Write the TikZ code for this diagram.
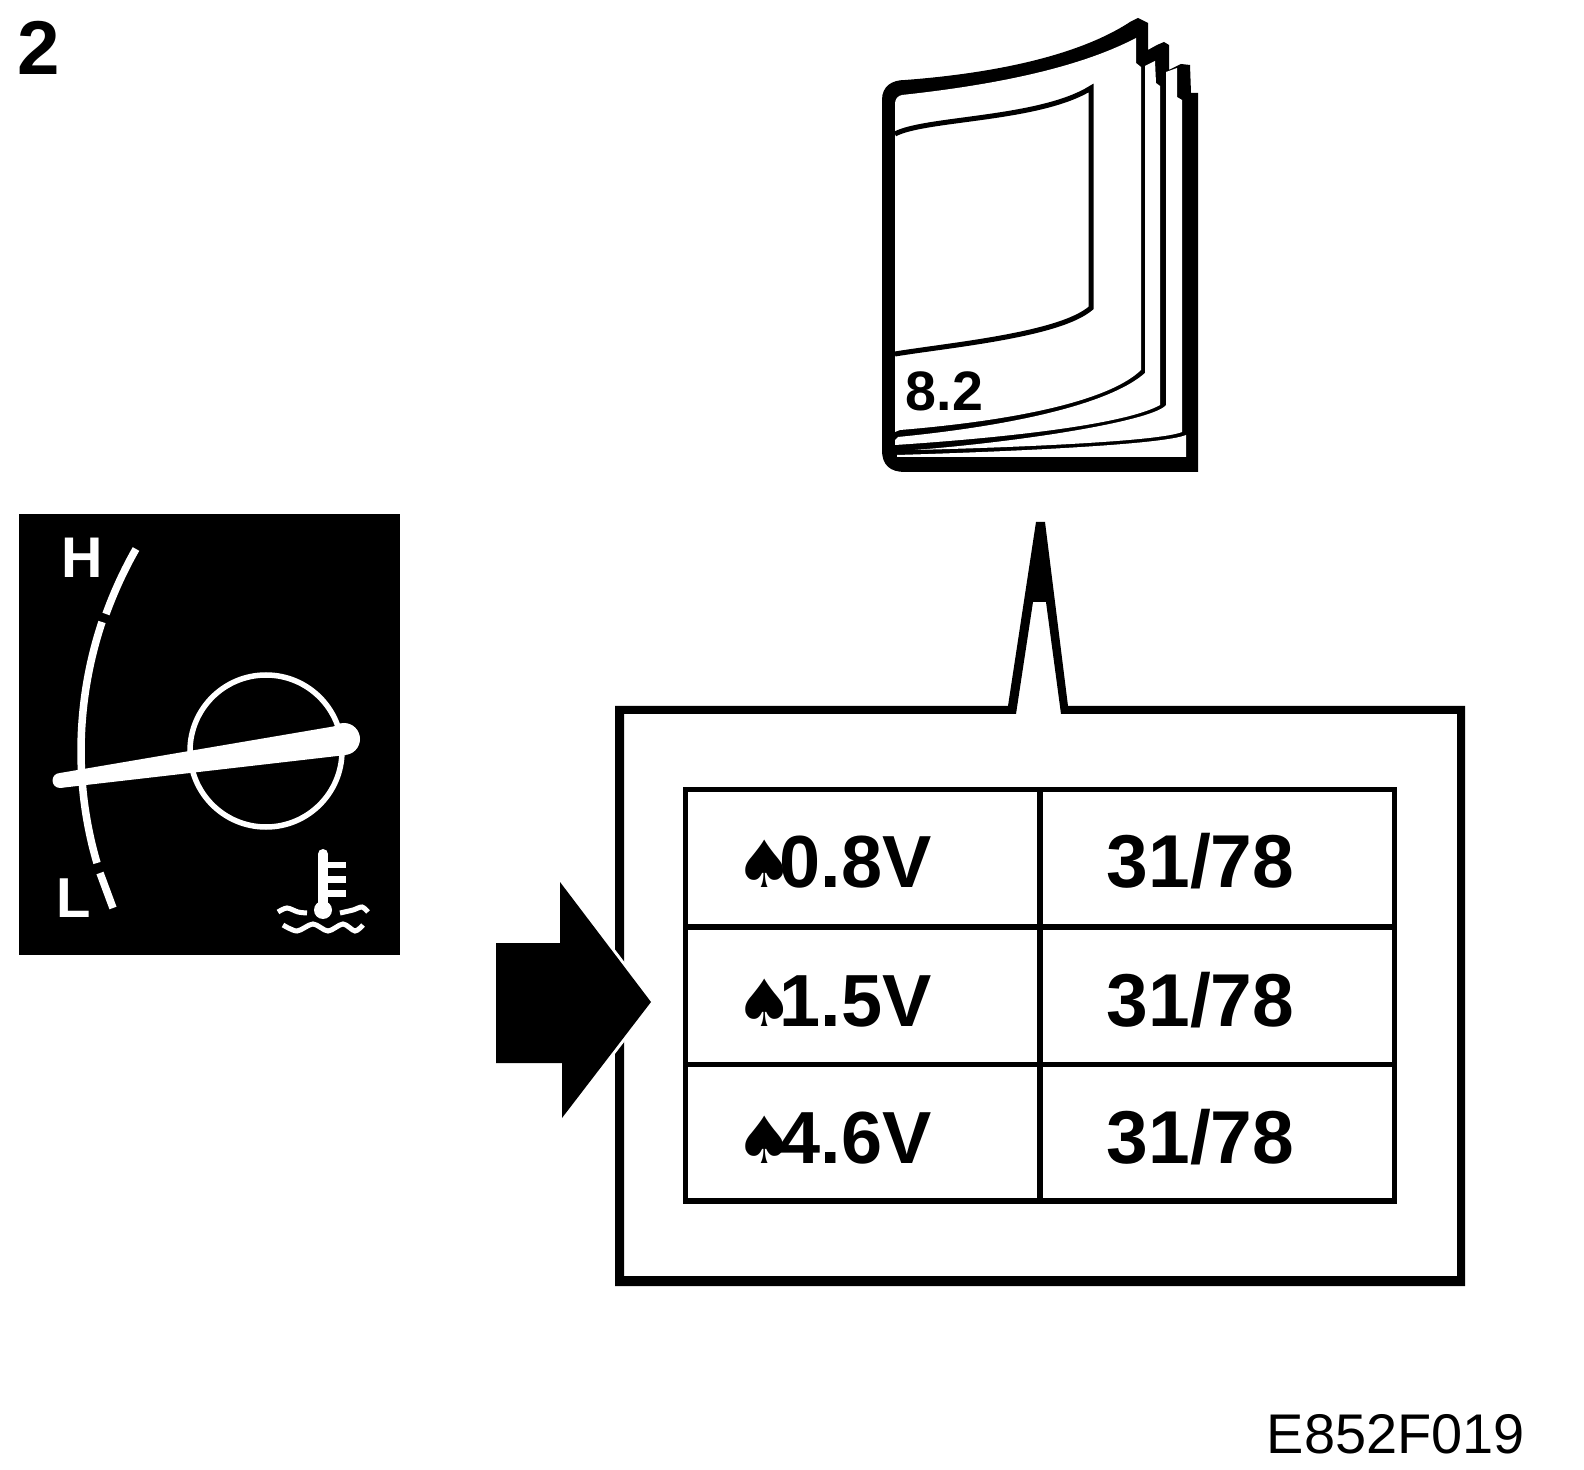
\documentclass[tikz,border=0pt]{standalone}
\usepackage{fontspec}
\setmainfont{Liberation Sans}
\newfontfamily\spadefont{DejaVu Sans}
\def\px{0.2845pt}
\tikzset{
    boldtext/.style={inner sep=0pt, anchor=base west, font=\fontsize{#1}{#1}\selectfont\bfseries},
    whiteline/.style={white, line width=7.5*\px},
    waveline/.style={white, line width=5*\px}
}
\newcommand{\spadeval}[1]{{\spadefont\fontsize{18.5pt}{18.5pt}\selectfont ♠}\kern-4.05pt #1}
\begin{document}
\begin{tikzpicture}[x=0.01cm, y=-0.01cm]
    \useasboundingbox (0,0) rectangle (1584,1470);

    % Figure number and drawing code
    \node[boldtext=21.7pt] (fignum) at (17,75) {2};
    \node[inner sep=0pt, anchor=base west, font=\fontsize{15.9pt}{15.9pt}\selectfont] (drawcode) at (1266,1453) {E852F019};

    % Gauge panel
    \fill[black] (19,514) rectangle (400,955);
    \node[boldtext=16.3pt, white] (high) at (61,578) {H};
    \node[boldtext=16pt, white] (low) at (56,917) {L};
    \draw[whiteline] (136,549) .. controls (124,570) and (114,592) .. (106,614);
    \draw[whiteline] (102,622) .. controls (76,700) and (74,785) .. (97,863);
    \draw[whiteline] (100,873) -- (113,908);
    \draw[white, line width=5.5*\px] (266,751) circle (76);
    \fill[white] (60,773) -- (342,725) -- (346,755) -- (60,788) -- cycle;
    \fill[white] (344,739) circle (16);
    \fill[white] (60,780.5) circle (7.5);

    % Thermometer
    \fill[white] (318,854) rectangle (328,910);
    \fill[white] (323,854) circle (5);
    \fill[white] (323,910) circle (9);
    \foreach \j in {862,876,890} {
        \fill[white] (328,\j) rectangle (346,\j+6.5);
    }
    \draw[waveline] plot[smooth] coordinates {(278,912) (287,908) (298,912) (307,913)};
    \draw[waveline] plot[smooth] coordinates {(340,913) (353,910) (362,907) (368,912)};
    \draw[waveline] plot[smooth] coordinates {(283,925) (297,931) (313,924) (328,931) (343,924) (355,931) (363,925)};

    % Booklet
    \fill[black] (882,100) .. controls (882,86) and (892,80) .. (905,80)
        .. controls (985,74) and (1075,58) .. (1130,22) -- (1138,18) -- (1148,23) -- (1148,50) -- (1157,45)
        -- (1164,42) -- (1169,45) -- (1169,70) -- (1181,64) -- (1190,65) -- (1191,93) -- (1198,93)
        -- (1198,472) -- (905,472) .. controls (890,472) and (882,465) .. (882,450) -- cycle;
    % pages
    \fill[white] (895,432) -- (895,105) .. controls (895,98) and (898,96) .. (902,95)
        .. controls (985,86) and (1075,70) .. (1136,38) -- (1136,63) -- (1141,67) -- (1141,370)
        .. controls (1110,400) and (1020,420) .. (900,430) -- cycle;
    \fill[white] (1145,66) -- (1155,61) -- (1156,83) -- (1160,86) -- (1160,405)
        .. controls (1130,422) and (1030,436) .. (895,445) -- (895,440) -- (898,437)
        .. controls (1030,424) and (1115,400) .. (1145,373) -- cycle;
    \fill[white] (1166,72) -- (1177,68) -- (1177,97) -- (1182,100) -- (1182,432)
        .. controls (1160,441) and (1030,447) .. (915,450)
        .. controls (1030,441) and (1155,420) .. (1166,405) -- cycle;
    \fill[white] (897,457) -- (1186,457) -- (1186,435)
        .. controls (1165,444) and (1030,451) .. (897,455) -- cycle;
    % cover panel
    \draw[line width=5*\px] (895,134) .. controls (925,118) and (1040,120) .. (1091,88)
        -- (1091,308) .. controls (1060,335) and (950,345) .. (895,354);
    \node[boldtext=15.8pt] (booknum) at (905,411) {8.2};

    % Callout box
    \fill[black, even odd rule] (615,706) -- (1008,706) -- (1036,522) -- (1045,522) -- (1068,706)
        -- (1465,706) -- (1465,1286) -- (615,1286) -- cycle
        (624,714) -- (1016,714) -- (1033,602) -- (1046,602) -- (1061,714)
        -- (1457,714) -- (1457,1276) -- (624,1276) -- cycle;

    % Value table
    \draw[line width=5.5*\px] (685.5,789.5) rectangle (1394.5,1201);
    \draw[line width=5.5*\px] (1040,789.5) -- (1040,1201);
    \foreach \j in {927,1064.5} {
        \draw[line width=5.5*\px] (685.5,\j) -- (1394.5,\j);
    }
    \foreach \j/\val in {887/0.8V,1026/1.5V,1163/4.6V} {
        \node[boldtext=21pt] (volt\j) at (735,\j) {\spadeval{\val}};
        \node[boldtext=21.3pt] (pins\j) at (1106,\j) {31/78};
    }

    % Pointer arrow
    \fill[black, preaction={draw=white, line width=6*\px}] (496,943) -- (560,943) -- (560,882) -- (651,1002)
        -- (562,1118) -- (562,1063) -- (496,1063) -- cycle;

\end{tikzpicture}
\end{document}
